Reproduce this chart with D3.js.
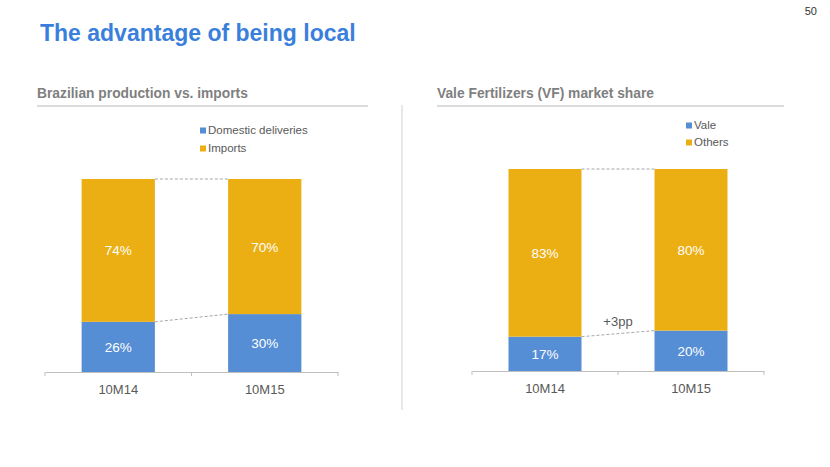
<!DOCTYPE html>
<html><head><meta charset="utf-8">
<script src="https://cdn.jsdelivr.net/npm/d3@7"></script>
<style>body{margin:0;background:#fff}svg{display:block;font-family:Arial,"Liberation Sans",sans-serif}</style>
</head><body><svg id="c" width="830" height="467"></svg>
<script>
const categories = ["10M14", "10M15"];
const leftSeries = ["Domestic deliveries", "Imports"];
const leftDomestic = [26, 30];
const leftImports = [74, 70];
const rightSeries = ["Vale", "Others"];
const rightVale = [17, 20];
const rightOthers = [83, 80];
const colors = ["#558ED5", "#EBAF13"];

const svg = d3.select("#c");
svg.append("text").attr("x", 40).attr("y", 41).attr("fill", "#3A7FDB")
  .attr("font-size", 23).attr("font-weight", "bold").text("The advantage of being local");
svg.append("text").attr("x", 817).attr("y", 15).attr("text-anchor", "end")
  .attr("fill", "#333").attr("font-size", 11).text("50");
svg.append("line").attr("x1", 402).attr("x2", 402).attr("y1", 105).attr("y2", 410)
  .attr("stroke", "#d9d9d9").attr("stroke-width", 1.2);

function panel(o) {
  const g = svg.append("g");
  g.append("text").attr("x", o.hx).attr("y", o.hy).attr("fill", "#7f7f7f")
    .attr("font-size", 13.8).attr("font-weight", "bold").text(o.title);
  g.append("line").attr("x1", o.hx).attr("x2", o.hx2).attr("y1", o.hy + 8).attr("y2", o.hy + 8)
    .attr("stroke", "#d0d0d0").attr("stroke-width", 1.3);
  const x = d3.scaleBand().domain(categories).range([o.x0, o.x1]).paddingInner(0.5).paddingOuter(0.25);
  const y = d3.scaleLinear().domain([0, 100]).range([o.base, o.top]);
  const data = categories.map((c, i) => ({c, a: o.a[i], b: o.b[i]}));
  const ax = g.append("g").attr("transform", `translate(0,${o.base})`)
    .call(d3.axisBottom(x).tickSize(0).tickPadding(13));
  ax.select(".domain").attr("stroke", "#bfbfbf");
  ax.selectAll("text").attr("font-size", 13).attr("fill", "#595959").attr("font-family", "Arial,'Liberation Sans',sans-serif");
  const bounds = [o.x0, (x(categories[0]) + x.bandwidth() + x(categories[1])) / 2, o.x1];
  g.selectAll(".tk").data(bounds).join("line").attr("x1", d => d).attr("x2", d => d)
    .attr("y1", o.base).attr("y2", o.base + 4).attr("stroke", "#bfbfbf");
  g.selectAll(".ba").data(data).join("rect").attr("x", d => x(d.c)).attr("width", x.bandwidth())
    .attr("y", d => y(d.a)).attr("height", d => y(0) - y(d.a)).attr("fill", colors[0]);
  g.selectAll(".bb").data(data).join("rect").attr("x", d => x(d.c)).attr("width", x.bandwidth())
    .attr("y", d => y(d.a + d.b)).attr("height", d => y(d.a) - y(d.a + d.b)).attr("fill", colors[1]);
  g.selectAll(".la").data(data).join("text").attr("x", d => x(d.c) + x.bandwidth() / 2)
    .attr("y", d => y(d.a / 2) + 5).attr("text-anchor", "middle").attr("fill", "#fff")
    .attr("font-size", 13.5).text(d => d.a + "%");
  g.selectAll(".lb").data(data).join("text").attr("x", d => x(d.c) + x.bandwidth() / 2)
    .attr("y", d => y(d.a + d.b / 2) + 5).attr("text-anchor", "middle").attr("fill", "#fff")
    .attr("font-size", 13.5).text(d => d.b + "%");
  const x0r = x(categories[0]) + x.bandwidth(), x1l = x(categories[1]);
  g.append("line").attr("x1", x0r).attr("x2", x1l).attr("y1", y(data[0].a)).attr("y2", y(data[1].a))
    .attr("stroke", "#a6a6a6").attr("stroke-dasharray", "3,2");
  g.append("line").attr("x1", x0r).attr("x2", x1l).attr("y1", y(100)).attr("y2", y(100))
    .attr("stroke", "#a6a6a6").attr("stroke-dasharray", "3,2");
  if (o.note) {
    g.append("text").attr("x", (x0r + x1l) / 2).attr("y", (y(data[0].a) + y(data[1].a)) / 2 - 8)
      .attr("text-anchor", "middle").attr("fill", "#595959").attr("font-size", 13).text(o.note);
  }
  o.series.forEach((s, i) => {
    g.append("rect").attr("x", o.lx).attr("y", o.ly + i * o.lgap - 6.5).attr("width", 6).attr("height", 6).attr("fill", colors[i]);
    g.append("text").attr("x", o.lx + 8).attr("y", o.ly + i * o.lgap).attr("fill", "#595959")
      .attr("font-size", 11.5).text(s);
  });
}

panel({title: "Brazilian production vs. imports", hx: 37, hx2: 368, hy: 98,
  x0: 45, x1: 338, base: 372, top: 179, a: leftDomestic, b: leftImports,
  series: leftSeries, lx: 200, ly: 134, lgap: 18});
panel({title: "Vale Fertilizers (VF) market share", hx: 437, hx2: 784, hy: 98,
  x0: 472, x1: 764, base: 371, top: 169, a: rightVale, b: rightOthers,
  series: rightSeries, lx: 686, ly: 129, lgap: 17, note: "+3pp"});
</script></body></html>
